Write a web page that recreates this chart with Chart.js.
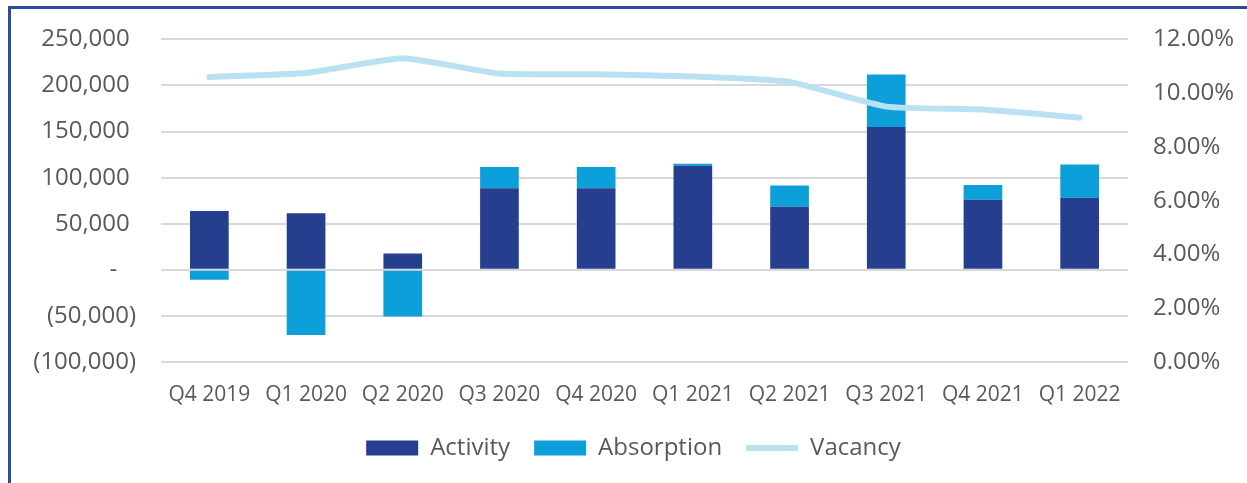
<!DOCTYPE html>
<html lang="en">
<head>
    <meta charset="UTF-8">
    <title>Activity, Absorption and Vacancy</title>
    <script src="https://cdn.jsdelivr.net/npm/chart.js"></script>
    <style>
        html, body {
            margin: 0;
            padding: 0;
            background: #fff;
            overflow: hidden;
        }
        .frame {
            position: absolute;
            left: 8px;
            top: 6px;
            width: 1400px;
            height: 700px;
            border-left: 3px solid #2c4a9e;
            border-top: 3px solid #2c4a9e;
        }
        .wrap {
            position: absolute;
            left: 0;
            top: 0;
            width: 1247px;
            height: 483px;
        }
    </style>
</head>
<body>
    <div class="frame"></div>
    <div class="wrap"><canvas id="chart"></canvas></div>

    <script>
// quarters on the x axis
const quarters = ['Q4 2019', 'Q1 2020', 'Q2 2020', 'Q3 2020', 'Q4 2020',
                  'Q1 2021', 'Q2 2021', 'Q3 2021', 'Q4 2021', 'Q1 2022'];

// left axis (sq ft)
const activity   = [63800, 61300, 17700, 88500, 88500, 113000, 68500, 154900, 76000, 78200];
const absorption = [-10700, -70800, -50700, 23100, 23100, 2200, 23100, 56900, 15900, 36100];

// right axis (%)
const vacancy = [10.6, 10.75, 11.3, 10.73, 10.7, 10.62, 10.42, 9.5, 9.39, 9.09];

const textColor = '#595959';
const gridColor = '#d9d9d9';

const leftLabel = v => {
    if (v === 0) return '-   ';
    const s = Math.abs(v).toLocaleString('en-US');
    return v < 0 ? '(' + s + ')' : s + ' ';
};

// legend order: bars first, line last
const legendOrder = [1, 2, 0];

new Chart(document.getElementById('chart'), {
    type: 'bar',
    data: {
        labels: quarters,
        datasets: [
            {
                type: 'line',
                label: 'Vacancy',
                data: vacancy,
                yAxisID: 'y1',
                borderColor: '#b8e2f4',
                backgroundColor: '#b8e2f4',
                borderWidth: 6,
                borderCapStyle: 'round',
                borderJoinStyle: 'round',
                tension: 0.15,
                pointRadius: 0,
                pointStyle: 'line',
                order: 0
            },
            {
                label: 'Activity',
                data: activity,
                backgroundColor: '#253f8e',
                borderWidth: 0,
                pointStyle: 'rect',
                stack: 's',
                order: 1
            },
            {
                label: 'Absorption',
                data: absorption,
                backgroundColor: '#0c9fd9',
                borderWidth: 0,
                pointStyle: 'rect',
                stack: 's',
                order: 1
            }
        ]
    },
    options: {
        responsive: true,
        maintainAspectRatio: false,
        animation: false,
        // left padding only nudges the legend to the right; the axis width makes up for it
        layout: { padding: { top: 37, bottom: 13, left: 20, right: 0 } },
        datasets: { bar: { barPercentage: 0.4, categoryPercentage: 1.0 } },
        plugins: {
            tooltip: { enabled: false },
            legend: {
                position: 'bottom',
                labels: {
                    usePointStyle: true,
                    pointStyleWidth: 52,
                    boxHeight: 15,
                    padding: 24,
                    color: textColor,
                    font: { family: 'Open Sans', size: 24 },
                    sort: (a, b) => legendOrder.indexOf(a.datasetIndex) - legendOrder.indexOf(b.datasetIndex)
                }
            }
        },
        scales: {
            x: {
                stacked: true,
                grid: { display: false, drawTicks: false },
                border: { display: false },
                ticks: {
                    color: textColor,
                    font: { family: 'Open Sans', size: 21 },
                    maxRotation: 0,
                    autoSkip: false,
                    padding: 20
                },
                afterFit: s => { s.height = 50; }
            },
            y: {
                stacked: true,
                position: 'left',
                min: -100000,
                max: 250000,
                grid: { color: gridColor, lineWidth: 2, drawTicks: false },
                border: { display: false },
                ticks: {
                    stepSize: 50000,
                    color: textColor,
                    font: { family: 'Open Sans', size: 24 },
                    padding: 25,
                    callback: leftLabel
                },
                afterFit: s => { s.width = 141; }
            },
            y1: {
                position: 'right',
                min: 0,
                max: 12,
                grid: { display: false, drawTicks: false },
                border: { display: false },
                ticks: {
                    stepSize: 2,
                    color: textColor,
                    font: { family: 'Open Sans', size: 24 },
                    padding: 25,
                    callback: v => v.toFixed(2) + '%'
                },
                afterFit: s => { s.width = 119; }
            }
        }
    }
});
    </script>
</body>
</html>
